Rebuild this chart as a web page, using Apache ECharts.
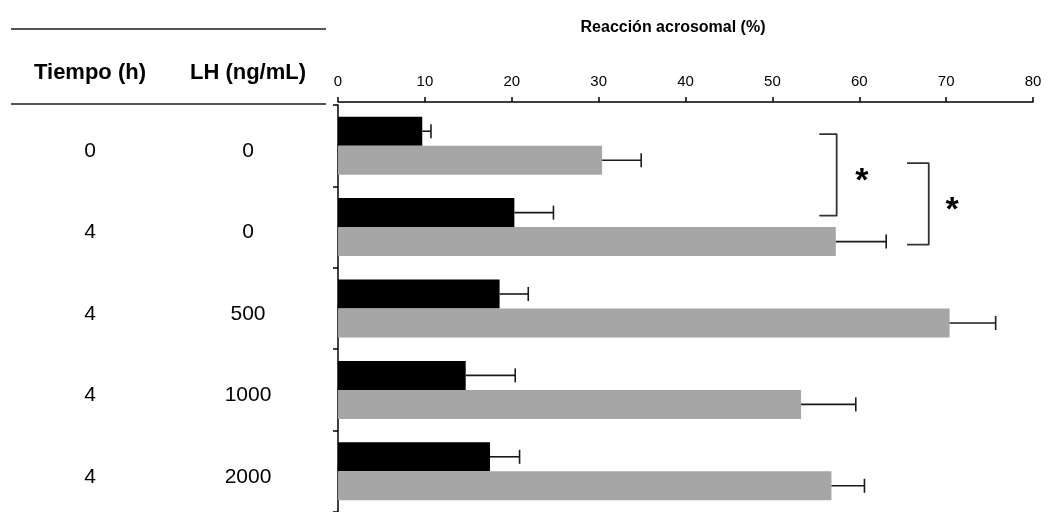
<!DOCTYPE html>
<html>
<head>
<meta charset="utf-8">
<script src="https://cdn.jsdelivr.net/npm/echarts@6/dist/echarts.min.js"></script>
<style>
  html, body { margin: 0; padding: 0; background: #fff; }
  #chart { width: 1048px; height: 512px; }
</style>
</head>
<body>
<div id="chart"></div>
<script>
// Table columns shown left of the bars
const tiempo = ['0', '4', '4', '4', '4'];
const lhDose = ['0', '0', '500', '1000', '2000'];

// Acrosome reaction (%) per condition, with upper error (SEM)
const blackValues = [9.7, 20.3, 18.6, 14.7, 17.5];
const blackErrors = [1.0, 4.5, 3.3, 5.7, 3.4];
const grayValues = [30.4, 57.3, 70.4, 53.3, 56.8];
const grayErrors = [4.5, 5.8, 5.3, 6.3, 3.8];

// Value axis range
const axisMin = 0, axisMax = 80, axisStep = 10;

// Significance brackets: [inner x, outer x, from row, to row, bar slot (-1 black, 1 gray)]
const brackets = [
  [55.4, 57.4, 0, 1, -1],
  [65.5, 68.0, 0, 1, 1]
];
// Asterisk x positions (value units), one per bracket
const starX = [60.3, 70.7];

const FONT = '"Liberation Sans", Arial, sans-serif';
const BAR_W = 29;
const chart = echarts.init(document.getElementById('chart'), null, { renderer: 'canvas' });

function errorSeries(values, errors, slot) {
  return {
    type: 'custom',
    z: 5,
    silent: true,
    encode: { x: 0, y: 2 },
    data: values.map((v, i) => [v, errors[i], i]),
    renderItem: function (params, api) {
      const v = api.value(0), e = api.value(1), c = api.value(2);
      const p0 = api.coord([v, c]);
      const p1 = api.coord([v + e, c]);
      const y = p0[1] + slot * BAR_W / 2;
      const st = { stroke: '#1a1a1a', lineWidth: 1.6 };
      return {
        type: 'group',
        children: [
          { type: 'line', shape: { x1: p0[0], y1: y, x2: p1[0], y2: y }, style: st },
          { type: 'line', shape: { x1: p1[0], y1: y - 7, x2: p1[0], y2: y + 7 }, style: st }
        ]
      };
    }
  };
}

const bracketSeries = {
  type: 'custom',
  z: 6,
  silent: true,
  encode: { x: 1, y: 2 },
  data: brackets.map((b, i) => b.concat([starX[i]])),
  renderItem: function (params, api) {
    const xi = api.value(0), xo = api.value(1);
    const r0 = api.value(2), r1 = api.value(3), slot = api.value(4), sx = api.value(5);
    const a = api.coord([xi, r0]);
    const b = api.coord([xo, r1]);
    const y0 = a[1] + slot * BAR_W / 2 + 3;
    const y1 = b[1] + slot * BAR_W / 2 + 3;
    const s = api.coord([sx, r0]);
    return {
      type: 'group',
      children: [
        {
          type: 'polyline',
          shape: { points: [[a[0], y0], [b[0], y0], [b[0], y1], [a[0], y1]] },
          style: { stroke: '#333', lineWidth: 1.8, fill: null, lineJoin: 'round' }
        },
        {
          type: 'text',
          style: {
            x: s[0], y: (y0 + y1) / 2 + 7, text: '*',
            font: 'bold 34px ' + FONT, fill: '#000',
            textAlign: 'center', textVerticalAlign: 'middle'
          }
        }
      ]
    };
  }
};

const rowLabel = {
  color: '#000', fontSize: 21, fontFamily: FONT,
  align: 'center', verticalAlign: 'top', lineHeight: 11
};

const option = {
  animation: false,
  backgroundColor: '#fff',
  grid: { left: 338, right: 15, top: 105, bottom: 0, containLabel: false },
  xAxis: {
    type: 'value',
    position: 'top',
    offset: 3,
    min: axisMin,
    max: axisMax,
    interval: axisStep,
    axisLine: { show: true, lineStyle: { color: '#000', width: 1.5 } },
    axisTick: { show: true, length: 5, lineStyle: { color: '#000', width: 1.5 } },
    axisLabel: { color: '#000', fontSize: 15, fontFamily: FONT, margin: 13 },
    splitLine: { show: false }
  },
  yAxis: [
    {
      type: 'category',
      data: lhDose,
      inverse: true,
      axisLine: { show: true, lineStyle: { color: '#000', width: 1.5 } },
      axisTick: { show: true, length: 5, lineStyle: { color: '#000', width: 1.5 } },
      axisLabel: Object.assign({ margin: 90 }, rowLabel),
      splitLine: { show: false }
    },
    {
      type: 'category',
      data: tiempo,
      inverse: true,
      position: 'left',
      axisLine: { show: false },
      axisTick: { show: false },
      axisLabel: Object.assign({ margin: 248 }, rowLabel)
    }
  ],
  series: [
    {
      type: 'bar',
      data: blackValues,
      barWidth: BAR_W,
      barGap: '0%',
      itemStyle: { color: '#000' },
      silent: true
    },
    {
      type: 'bar',
      data: grayValues,
      barWidth: BAR_W,
      barGap: '0%',
      itemStyle: { color: '#a6a6a6' },
      silent: true
    },
    errorSeries(blackValues, blackErrors, -1),
    errorSeries(grayValues, grayErrors, 1),
    bracketSeries
  ],
  graphic: [
    {
      type: 'text', x: 673, y: 28,
      style: { text: 'Reacción acrosomal (%)', font: 'bold 16px ' + FONT, fill: '#000', textAlign: 'center', textVerticalAlign: 'middle' }
    },
    {
      type: 'line', shape: { x1: 11, y1: 29, x2: 326, y2: 29 },
      style: { stroke: '#555', lineWidth: 2 }
    },
    {
      type: 'line', shape: { x1: 11, y1: 104, x2: 326, y2: 104 },
      style: { stroke: '#555', lineWidth: 2 }
    },
    {
      type: 'text', x: 90, y: 73,
      style: { text: 'Tiempo (h)', font: 'bold 22px ' + FONT, fill: '#000', textAlign: 'center', textVerticalAlign: 'middle' }
    },
    {
      type: 'text', x: 248, y: 73,
      style: { text: 'LH (ng/mL)', font: 'bold 22px ' + FONT, fill: '#000', textAlign: 'center', textVerticalAlign: 'middle' }
    }
  ]
};

chart.setOption(option);
</script>
</body>
</html>
